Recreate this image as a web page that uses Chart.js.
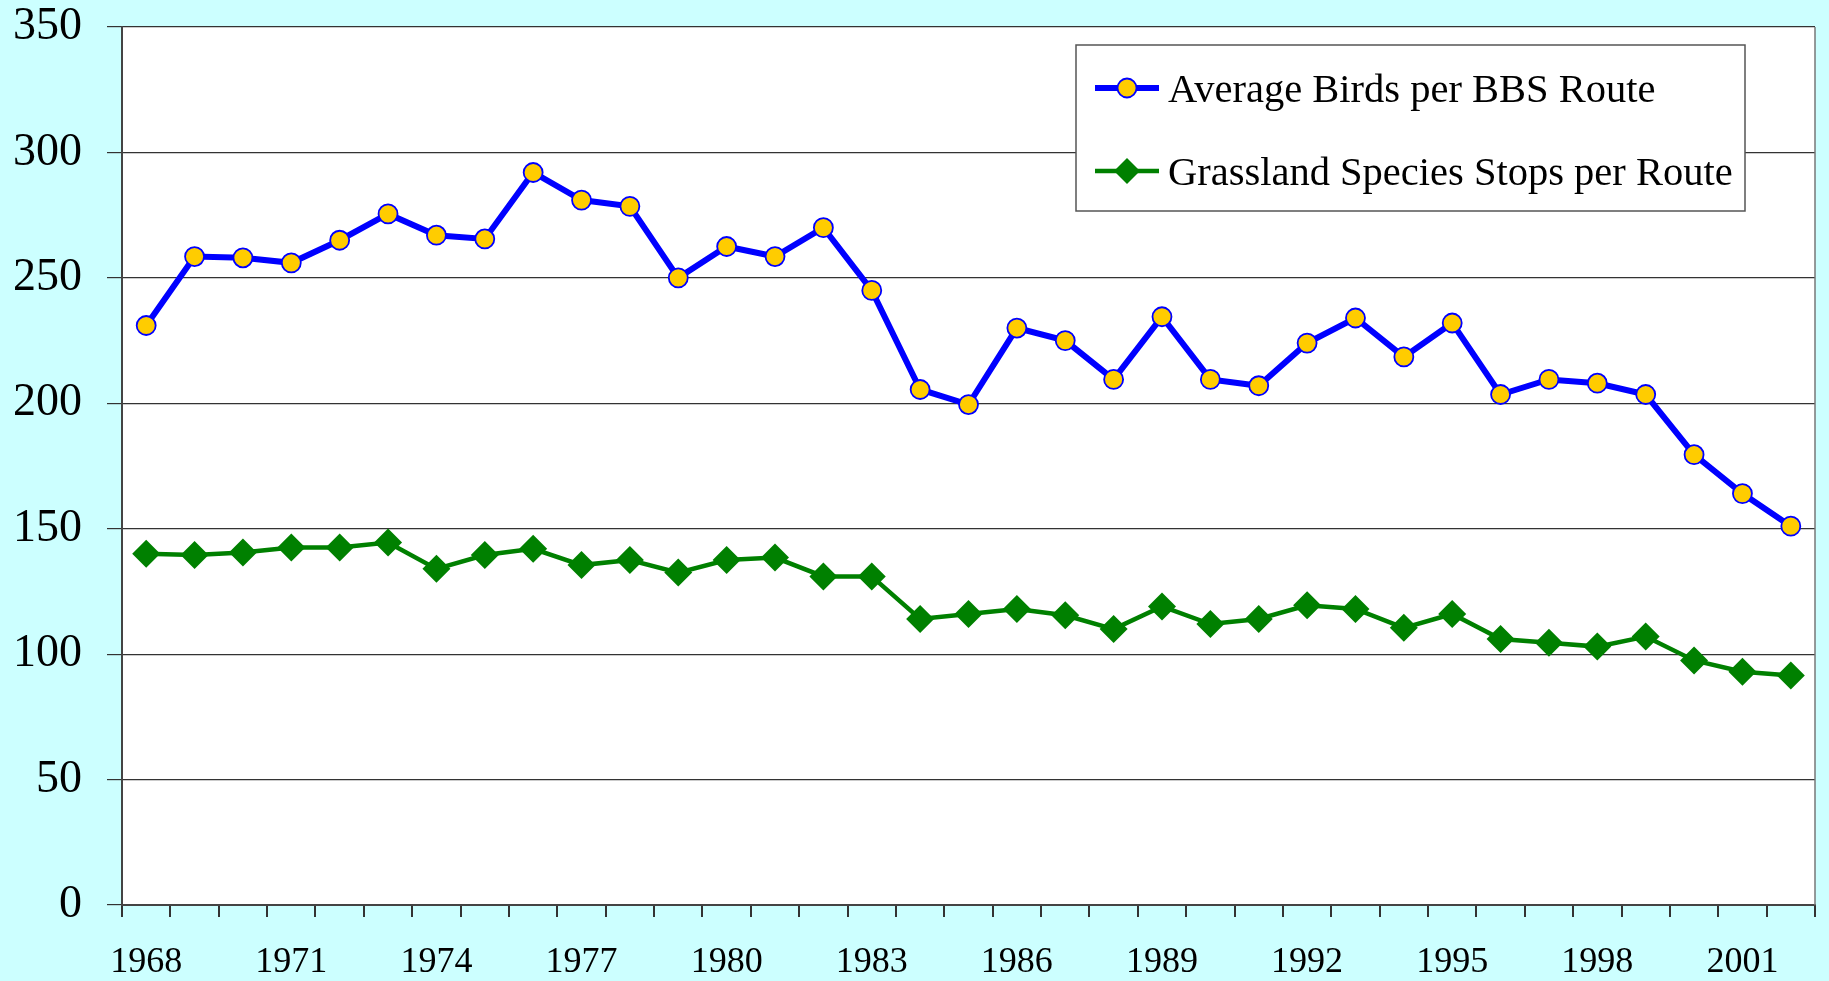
<!DOCTYPE html>
<html>
<head>
<meta charset="utf-8">
<script src="https://cdn.jsdelivr.net/npm/chart.js@4/dist/chart.umd.min.js"></script>
<style>
  html, body { margin: 0; padding: 0; background: #CCFFFF; }
  #wrap { width: 1829px; height: 981px; }
</style>
</head>
<body>
<div id="wrap"><canvas id="c" width="1829" height="981"></canvas></div>
<script>
const years = ['1968','1969','1970','1971','1972','1973','1974','1975','1976','1977',
  '1978','1979','1980','1981','1982','1983','1984','1985','1986','1987',
  '1988','1989','1990','1991','1992','1993','1994','1995','1996','1997',
  '1998','1999','2000','2001','2002'];
const shownYearLabels = ['1968','1971','1974','1977','1980','1983','1986','1989','1992','1995','1998','2001'];
const yTicks = [0, 50, 100, 150, 200, 250, 300, 350];

const avgBirds = [231, 258.5, 258, 256, 265, 275.5, 267, 265.5, 292, 281,
  278.5, 250, 262.5, 258.5, 270, 245, 205.5, 199.5, 230, 225,
  209.5, 234.5, 209.5, 207, 224, 234, 218.5, 232, 203.5, 209.5,
  208, 203.5, 179.5, 164, 151];
const grassStops = [140, 139.5, 140.5, 142.5, 142.5, 144.5, 134, 139.5, 142, 135.5,
  137.5, 132.5, 137.5, 138.5, 131, 131, 114, 116, 118, 115.5,
  110, 119, 112, 114, 119.5, 118, 110.5, 116, 106, 104.5,
  103, 107, 97.5, 93, 91.5];

const seriesNames = ['Average Birds per BBS Route', 'Grassland Species Stops per Route'];

const FONT = "'Liberation Serif', 'Times New Roman', serif";

function drawMarker(ctx, style, r, x, y, fill, stroke, bw) {
  ctx.save();
  ctx.fillStyle = fill; ctx.strokeStyle = stroke; ctx.lineWidth = bw;
  ctx.beginPath();
  if (style === 'circle') {
    ctx.arc(x, y, r, 0, Math.PI * 2);
  } else {
    ctx.moveTo(x, y - r); ctx.lineTo(x + r, y); ctx.lineTo(x, y + r); ctx.lineTo(x - r, y); ctx.closePath();
  }
  ctx.fill();
  if (bw > 0) ctx.stroke();
  ctx.restore();
}

const bgPlugin = {
  id: 'bg',
  beforeDraw(chart) {
    const ctx = chart.ctx, a = chart.chartArea;
    ctx.save();
    ctx.fillStyle = '#CCFFFF';
    ctx.fillRect(0, 0, chart.width, chart.height);
    ctx.fillStyle = '#FFFFFF';
    ctx.fillRect(a.left, a.top, a.right - a.left, a.bottom - a.top);
    ctx.restore();
  },
  afterDraw(chart) {
    const ctx = chart.ctx, a = chart.chartArea;
    ctx.save();
    ctx.strokeStyle = '#777';
    ctx.lineWidth = 1.5;
    ctx.beginPath();
    ctx.moveTo(a.right, a.top); ctx.lineTo(a.right, a.bottom);
    ctx.stroke();
    ctx.restore();
  }
};

const legendPlugin = {
  id: 'boxLegend',
  afterDraw(chart) {
    const ctx = chart.ctx;
    const box = { x: 1076, y: 45, w: 669, h: 166 };
    ctx.save();
    ctx.fillStyle = '#FFFFFF';
    ctx.fillRect(box.x, box.y, box.w, box.h);
    ctx.strokeStyle = '#555';
    ctx.lineWidth = 1.5;
    ctx.strokeRect(box.x, box.y, box.w, box.h);
    const rows = [88, 171];
    chart.data.datasets.forEach((ds, i) => {
      const y = rows[i];
      ctx.strokeStyle = ds.borderColor;
      ctx.lineWidth = ds.borderWidth;
      ctx.beginPath();
      ctx.moveTo(1095, y); ctx.lineTo(1159, y);
      ctx.stroke();
      drawMarker(ctx, ds.pointStyle, ds.pointStyle === 'circle' ? 9.5 : 13,
        1127, y, ds.pointBackgroundColor, ds.pointBorderColor, ds.pointBorderWidth);
      ctx.fillStyle = '#000';
      ctx.font = '40.5px ' + FONT;
      ctx.textAlign = 'left';
      ctx.textBaseline = 'middle';
      ctx.fillText(ds.label, 1168, y + 3);
    });
    ctx.restore();
  }
};

new Chart(document.getElementById('c'), {
  type: 'line',
  data: {
    labels: years,
    datasets: [
      {
        label: seriesNames[0],
        data: avgBirds,
        borderColor: '#0000FF',
        borderWidth: 6,
        pointStyle: 'circle',
        pointRadius: 9.5,
        pointBackgroundColor: '#FFCC00',
        pointBorderColor: '#0000FF',
        pointBorderWidth: 1.8,
        tension: 0,
        fill: false
      },
      {
        label: seriesNames[1],
        data: grassStops,
        borderColor: '#008000',
        borderWidth: 4.5,
        pointStyle: 'rectRot',
        pointRadius: 14,
        pointBackgroundColor: '#008000',
        pointBorderColor: '#008000',
        pointBorderWidth: 0,
        tension: 0,
        fill: false
      }
    ]
  },
  options: {
    responsive: false,
    animation: false,
    devicePixelRatio: 1,
    layout: { padding: { top: 27, right: 8, bottom: 0, left: 0 } },
    plugins: {
      legend: { display: false },
      tooltip: { enabled: false }
    },
    events: [],
    scales: {
      x: {
        type: 'category',
        offset: true,
        afterFit(scale) {
          scale.height = 76;
          scale.paddingLeft = 0; scale.paddingRight = 0;
        },
        grid: {
          offset: true,
          drawOnChartArea: false,
          drawTicks: true,
          tickLength: 12,
          color: '#333',
          lineWidth: 2
        },
        border: { color: '#444', width: 2 },
        ticks: {
          autoSkip: false,
          maxRotation: 0,
          padding: 24,
          color: '#000',
          font: { family: FONT, size: 36 },
          callback(value, index) {
            const lab = this.getLabelForValue(value);
            return shownYearLabels.includes(lab) ? lab : '';
          }
        }
      },
      y: {
        min: yTicks[0],
        max: yTicks[yTicks.length - 1],
        afterFit(scale) {
          scale.width = 122;
          scale.paddingTop = 0; scale.paddingBottom = 0;
        },
        afterBuildTicks(scale) { scale.ticks = yTicks.map(v => ({ value: v })); },
        grid: {
          color: '#333',
          lineWidth: 1.2,
          drawTicks: true,
          tickLength: 15
        },
        border: { color: '#444', width: 2 },
        ticks: {
          padding: 25,
          color: '#000',
          font: { family: FONT, size: 46 }
        }
      }
    }
  },
  plugins: [bgPlugin, legendPlugin]
});
</script>
</body>
</html>
